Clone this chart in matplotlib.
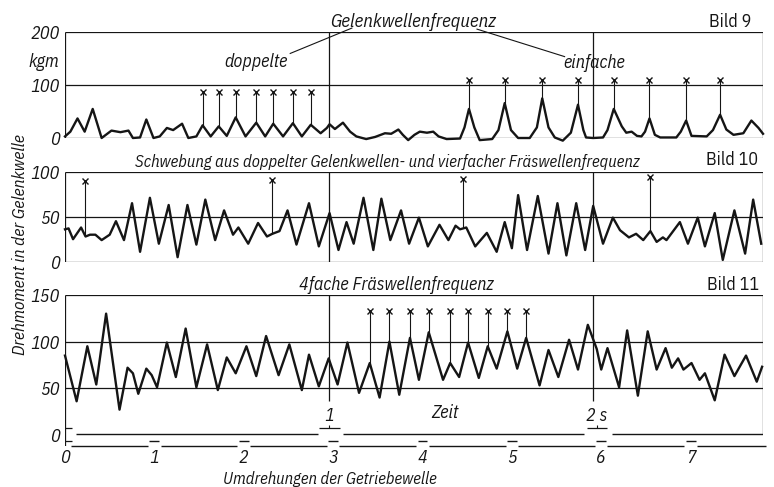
import matplotlib
matplotlib.use("Agg")
import matplotlib.pyplot as plt

plt.rcParams['font.family'] = ['IBM Plex Sans Condensed', 'Liberation Sans Narrow', 'DejaVu Sans']

# Bild 9 - Gelenkwellenfrequenz (x: Umdrehungen der Getriebewelle, y: kgm)
b9_x = [0.00, 0.06, 0.14, 0.22, 0.31, 0.41, 0.52, 0.62, 0.71, 0.76, 0.84, 0.91, 0.99,
        1.06, 1.14, 1.21, 1.31, 1.38, 1.47, 1.54, 1.63, 1.72, 1.81, 1.91, 2.02, 2.14,
        2.24, 2.33, 2.44, 2.55, 2.65, 2.75, 2.86, 2.93, 2.96, 3.02, 3.11, 3.19, 3.26,
        3.37, 3.47, 3.58, 3.65, 3.73, 3.78, 3.84, 3.91, 3.97, 4.05, 4.12, 4.18, 4.27,
        4.42, 4.47, 4.52, 4.58, 4.64, 4.78, 4.85, 4.92, 4.99, 5.07, 5.20, 5.28, 5.34,
        5.41, 5.48, 5.57, 5.66, 5.74, 5.80, 5.83, 5.91, 6.02, 6.07, 6.14, 6.23, 6.28,
        6.34, 6.40, 6.45, 6.49, 6.54, 6.60, 6.66, 6.84, 6.89, 6.95, 7.01, 7.18, 7.25,
        7.33, 7.40, 7.48, 7.59, 7.68, 7.76, 7.81]
b9_y = [3, 12, 37, 12, 55, 0, 14, 11, 14, 0, 1, 35, 0,
        3, 19, 15, 27, 0, 3, 24, 3, 22, 4, 39, 3, 29,
        3, 27, 3, 28, 3, 25, 9, 19, 26, 17, 29, 12, 3,
        -2, 2, 9, 8, 16, 6, -4, 6, 12, 10, 12, 3, -2,
        -1, 20, 55, 20, -4, -2, 15, 66, 15, 0, 0, 20, 75,
        20, 1, -5, 10, 63, 15, 1, 0, 1, 15, 55, 22, 10,
        12, 4, 3, 12, 37, 6, 1, 1, 12, 33, 4, 3, 15,
        44, 16, 6, 9, 33, 19, 8]
b9_dop_x = [1.54, 1.72, 1.91, 2.14, 2.33, 2.55, 2.75]
b9_dop_y = [24, 22, 39, 29, 27, 28, 25]
b9_ein_x = [4.52, 4.92, 5.34, 5.74, 6.14, 6.54, 6.95, 7.33]
b9_ein_y = [55, 66, 75, 63, 55, 37, 33, 44]

# Bild 10 - Schwebung
b10_x = [0.00, 0.04, 0.09, 0.18, 0.23, 0.28, 0.34, 0.41, 0.50, 0.57, 0.66, 0.75, 0.84,
         0.95, 1.05, 1.16, 1.26, 1.37, 1.47, 1.57, 1.68, 1.78, 1.88, 1.94, 2.05, 2.16,
         2.26, 2.32, 2.40, 2.49, 2.59, 2.73, 2.84, 2.96, 3.06, 3.15, 3.23, 3.34, 3.45,
         3.54, 3.64, 3.76, 3.85, 3.96, 4.06, 4.19, 4.29, 4.37, 4.42, 4.49, 4.59, 4.72,
         4.83, 4.92, 5.00, 5.07, 5.17, 5.29, 5.41, 5.51, 5.61, 5.72, 5.82, 5.91, 6.02,
         6.13, 6.21, 6.31, 6.39, 6.47, 6.55, 6.62, 6.69, 6.73, 6.88, 6.97, 7.08, 7.16,
         7.27, 7.36, 7.49, 7.61, 7.70, 7.79]
b10_y = [36, 37, 25, 38, 28, 30, 30, 24, 30, 45, 24, 65, 11,
         71, 20, 63, 5, 63, 19, 69, 24, 57, 30, 38, 20, 43,
         28, 31, 34, 57, 19, 65, 17, 54, 13, 44, 20, 71, 13,
         70, 24, 57, 20, 49, 17, 41, 24, 40, 36, 38, 17, 32,
         11, 44, 15, 74, 13, 73, 9, 65, 7, 65, 13, 62, 20,
         49, 35, 27, 31, 24, 34, 22, 27, 24, 44, 20, 49, 17,
         54, 2, 57, 9, 69, 20]
b10_mark_x = [0.22, 2.32, 4.45, 6.55]
b10_mark_y = [29, 31, 37, 34]
b10_mark_top = [90, 91, 92, 94]

# Bild 11 - 4fache Fräswellenfrequenz
b11_x = [0.00, 0.13, 0.25, 0.35, 0.46, 0.61, 0.70, 0.76, 0.82, 0.91, 0.97, 1.03, 1.14,
         1.24, 1.35, 1.47, 1.59, 1.71, 1.81, 1.91, 2.03, 2.14, 2.25, 2.39, 2.51, 2.65,
         2.73, 2.84, 2.95, 3.05, 3.16, 3.29, 3.41, 3.52, 3.63, 3.74, 3.86, 3.96, 4.07,
         4.23, 4.31, 4.41, 4.51, 4.63, 4.73, 4.83, 4.95, 5.06, 5.16, 5.31, 5.41, 5.52,
         5.64, 5.74, 5.85, 5.95, 6.00, 6.07, 6.20, 6.29, 6.41, 6.52, 6.62, 6.72, 6.79,
         6.86, 6.92, 7.01, 7.10, 7.16, 7.27, 7.38, 7.49, 7.62, 7.74, 7.80]
b11_y = [85, 36, 95, 54, 130, 27, 72, 66, 44, 71, 64, 51, 99,
         62, 114, 51, 97, 48, 83, 66, 95, 63, 106, 64, 97, 48,
         86, 52, 82, 54, 99, 45, 77, 40, 100, 43, 104, 59, 110,
         59, 77, 62, 99, 61, 95, 71, 111, 71, 104, 53, 91, 62,
         102, 70, 118, 92, 70, 93, 51, 112, 42, 111, 70, 93, 72,
         82, 70, 77, 59, 66, 37, 86, 63, 85, 57, 73]
b11_mark_x = [3.41, 3.63, 3.86, 4.07, 4.31, 4.51, 4.73, 4.95, 5.16]
b11_mark_y = [77, 100, 104, 110, 77, 99, 95, 111, 104]

rev_ticks = [0, 1, 2, 3, 4, 5, 6, 7]
t_1s, t_2s = 2.955, 5.91   # Zeitmarken in Umdrehungen
XMAX = 7.81

INK = "#151515"
W, H = 774, 487
fig = plt.figure(figsize=(W / 100, H / 100), dpi=100)


def axes_px(top, bottom):
    return fig.add_axes([65 / W, 1 - bottom / H, 698 / W, (bottom - top) / H])


def clean(ax, ylim):
    ax.set_xlim(0, XMAX)
    ax.set_ylim(*ylim)
    for s in ax.spines.values():
        s.set_visible(False)
    ax.set_xticks([])
    ax.tick_params(axis="y", length=0, pad=4, labelsize=13, colors=INK)
    for lab in ax.get_yticklabels():
        lab.set_fontstyle("italic")


def curve(ax, x, y):
    ax.plot(x, y, color=INK, lw=1.7, solid_joinstyle="round", clip_on=False)


def stems(ax, x, base, top):
    ax.vlines(x, base, top, color=INK, lw=0.8)
    ax.plot(x, top, "x", color=INK, ms=4.5, mew=1.0, clip_on=False)


it = dict(color=INK, fontstyle="italic")

# ---- Bild 9
ax1 = axes_px(32.3, 138)
ax1.set_yticks([0, 100, 200])
clean(ax1, (0, 200))
ax1.hlines([0, 100, 200], 0, XMAX, color=INK, lw=0.9)
ax1.vlines([0, t_1s, t_2s, XMAX], 0, 200, color=INK, lw=0.9)
curve(ax1, b9_x, b9_y)
stems(ax1, b9_dop_x, b9_dop_y, [87] * len(b9_dop_x))
stems(ax1, b9_ein_x, b9_ein_y, [110] * len(b9_ein_x))
ax1.text(-0.07, 144, "kgm", ha="right", va="center", fontsize=13, **it)
ax1.text(3.90, 219, "Gelenkwellenfrequenz", ha="center", va="center", fontsize=13.5, **it)
ax1.text(2.14, 144, "doppelte", ha="center", va="center", fontsize=13, **it)
ax1.text(5.92, 142, "einfache", ha="center", va="center", fontsize=13, **it)
ax1.plot([2.52, 3.21], [160, 208], color=INK, lw=0.8, clip_on=False)
ax1.plot([5.59, 4.61], [154, 206], color=INK, lw=0.8, clip_on=False)
ax1.text(7.44, 220, "Bild 9", ha="center", va="center", fontsize=13, color=INK)

# ---- Bild 10
ax2 = axes_px(171.7, 261.7)
ax2.set_yticks([0, 50, 100])
clean(ax2, (0, 100))
ax2.hlines([0, 50, 100], 0, XMAX, color=INK, lw=0.9)
ax2.vlines([0, t_1s, t_2s, XMAX], 0, 100, color=INK, lw=0.9)
curve(ax2, b10_x, b10_y)
stems(ax2, b10_mark_x, b10_mark_y, b10_mark_top)
ax2.text(3.61, 111, "Schwebung aus doppelter Gelenkwellen- und vierfacher Fräswellenfrequenz",
         ha="center", va="center", fontsize=12, **it)
ax2.text(7.46, 113, "Bild 10", ha="center", va="center", fontsize=13, color=INK)

# ---- Bild 11 with time and revolution axes below
ax3 = axes_px(295, 446)
ax3.set_yticks([0, 50, 100, 150])
clean(ax3, (-12, 150))
ax3.hlines([50, 100, 150], 0, XMAX, color=INK, lw=0.9)
ax3.vlines(0, -12, 150, color=INK, lw=0.9)
ax3.vlines(XMAX, 0.5, 150, color=INK, lw=0.9)
ax3.vlines([t_1s, t_2s], 36, 150, color=INK, lw=0.9)
curve(ax3, b11_x, b11_y)
stems(ax3, b11_mark_x, b11_mark_y, [133] * len(b11_mark_x))
ax3.text(3.71, 160.7, "4fache Fräswellenfrequenz", ha="center", va="center", fontsize=13, **it)
ax3.text(7.47, 160.7, "Bild 11", ha="center", va="center", fontsize=13, color=INK)

# Zeitachse
ax3.hlines([0.5] * 3, [0.12, t_1s + 0.15, t_2s + 0.21], [t_1s - 0.12, t_2s - 0.10, XMAX],
           color=INK, lw=1.0)
ax3.hlines([7.5, -6.5], 0, 0.08, color=INK, lw=0.9)
for t, lab in [(t_1s, "1"), (t_2s + 0.04, "2 s")]:
    ax3.hlines(7.6, t - 0.11, t + 0.12, color=INK, lw=0.9)
    ax3.vlines(t, 7.6, 10.5, color=INK, lw=0.8)
    ax3.text(t, 20, lab, ha="center", va="center", fontsize=13, **it)
ax3.text(4.25, 23, "Zeit", ha="center", va="center", fontsize=13, **it)

# Umdrehungsachse: Linie mit Lücken, kleiner Strich über jeder Marke
gap = 0.07
seg_start = [0.07] + [k + gap for k in rev_ticks[1:]]
seg_end = [k - gap for k in rev_ticks[1:]] + [7.84]
ax3.hlines([-12] * len(seg_start), seg_start, seg_end, color=INK, lw=1.0, clip_on=False)
dash_x = rev_ticks[1:]
ax3.hlines([-6.6] * len(dash_x), [k - 0.055 for k in dash_x], [k + 0.055 for k in dash_x],
           color=INK, lw=1.0)
ax3.set_xticks(rev_ticks)
ax3.set_xticklabels([str(k) for k in rev_ticks], fontsize=13, fontstyle="italic", color=INK)
ax3.tick_params(axis="x", length=0, pad=2)

fig.text(330 / W, 1 - 479 / H, "Umdrehungen der Getriebewelle", ha="center", va="center",
         fontsize=12, **it)
fig.text(20 / W, 1 - 245 / H, "Drehmoment in der Gelenkwelle", rotation=90,
         ha="center", va="center", fontsize=12.5, **it)

fig.savefig("out.png", dpi=100, facecolor="white")
